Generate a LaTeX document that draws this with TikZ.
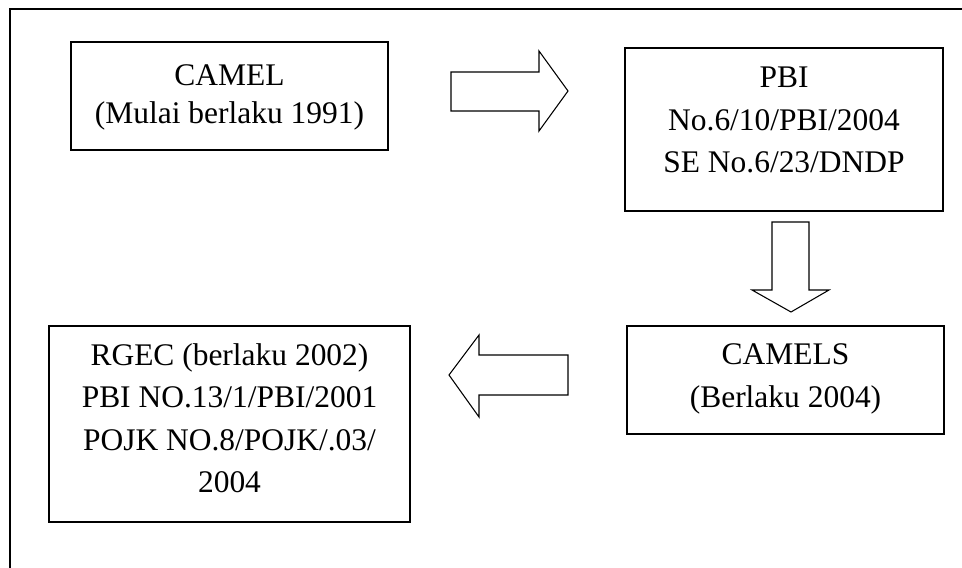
\documentclass[tikz,border=0pt]{standalone}
\usepackage{fontspec}
\setmainfont{Liberation Serif}
\begin{document}
\begin{tikzpicture}[x=0.75pt,y=-0.75pt,
  boxnode/.style={draw=black,line width=1pt,rectangle,inner sep=0pt},
  txt/.style={align=center,inner sep=0pt,font=\fontsize{23.6}{31.9}\selectfont},
  txtb/.style={align=center,inner sep=0pt,font=\fontsize{23.6}{28.5}\selectfont},
  frameline/.style={line width=1.3pt,draw=black},
  blockarrow/.style={draw=black,line width=0.8pt,line join=miter,fill=white}]
\useasboundingbox (0,0) rectangle (962,567);
% outer frame (only top and left edges visible)
\draw[frameline] (970,9) -- (10,9) -- (10,575);
% boxes
\node[boxnode,minimum width=237.75pt,minimum height=81pt] (camel) at (229.5,96) {};
\node[boxnode,minimum width=238.5pt,minimum height=122.25pt] (pbi) at (784,129.5) {};
\node[boxnode,minimum width=237.75pt,minimum height=81pt] (camels) at (785.5,380) {};
\node[boxnode,minimum width=270.75pt,minimum height=147pt] (rgec) at (229.5,424) {};
% texts
\node[txtb] (camelT) at (229.5,97.7) {CAMEL\\(Mulai berlaku 1991)};
\node[txt] (pbiT) at (784,120.3) {PBI\\No.6/10/PBI/2004\\SE No.6/23/DNDP};
\node[txt] (camelsT) at (785.5,378.9) {CAMELS\\(Berlaku 2004)};
\node[txt] (rgecT) at (229.5,418.3) {RGEC (berlaku 2002)\\PBI NO.13/1/PBI/2001\\POJK NO.8/POJK/.03/\\2004};
% block arrows
\draw[blockarrow] (451,72) -- (539,72) -- (539,51) -- (568,91) -- (539,131) -- (539,111) -- (451,111) -- cycle;
\draw[blockarrow] (772,222) -- (809,222) -- (809,290) -- (829,290) -- (791,312) -- (752,290) -- (772,290) -- cycle;
\draw[blockarrow] (568,355) -- (479,355) -- (479,335) -- (449,375) -- (479,417) -- (479,395) -- (568,395) -- cycle;
\end{tikzpicture}
\end{document}
